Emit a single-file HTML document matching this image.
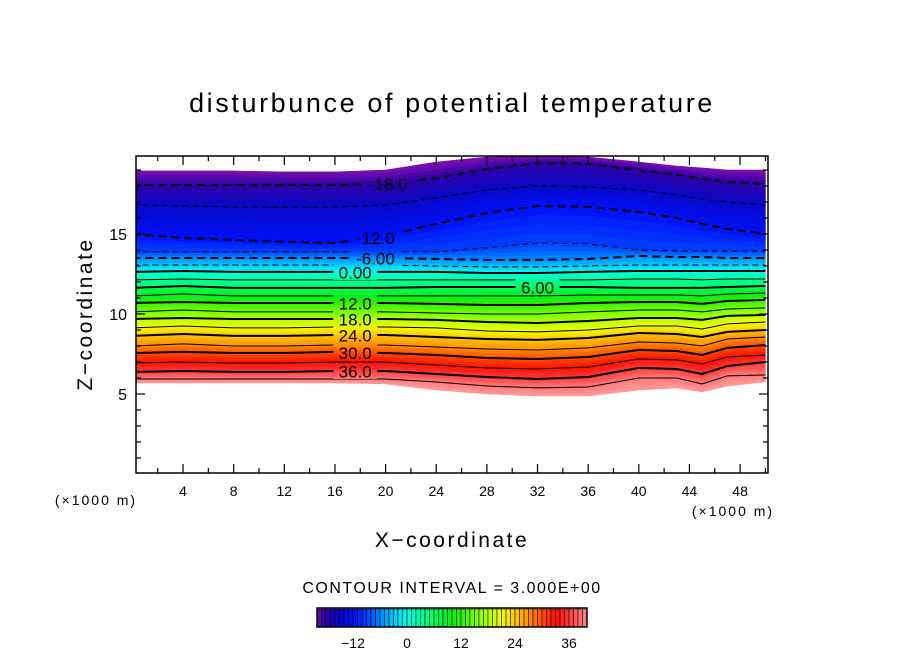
<!DOCTYPE html>
<html><head><meta charset="utf-8"><style>
body{margin:0;background:#fff}
svg{display:block;font-family:"Liberation Sans",sans-serif}
</style></head><body>
<svg id="chart" width="904" height="654" viewBox="0 0 904 654" xmlns="http://www.w3.org/2000/svg">
<defs><clipPath id="plotclip"><rect x="136" y="156" width="632" height="317"/></clipPath>
<mask id="labelmask" maskUnits="userSpaceOnUse" x="0" y="0" width="904" height="654"><rect x="0" y="0" width="904" height="654" fill="#fff"/><g id="maskholes"></g></mask></defs>
<rect width="904" height="654" fill="#fff"/>
<text x="452" y="112" text-anchor="middle" font-size="27" letter-spacing="2.6">disturbunce of potential temperature</text>
<g id="fills" clip-path="url(#plotclip)"></g>
<g clip-path="url(#plotclip)"><g id="lines" mask="url(#labelmask)"></g></g>
<g id="labels"></g>
<rect x="136" y="156" width="632" height="317" fill="none" stroke="#000" stroke-width="1.5"/>
<g id="axes"></g>
<text x="96" y="505" text-anchor="middle" font-size="14" letter-spacing="2">(×1000 m)</text>
<text x="733" y="516" text-anchor="middle" font-size="14" letter-spacing="2">(×1000 m)</text>
<text x="452" y="547" text-anchor="middle" font-size="21" letter-spacing="2.5">X−coordinate</text>
<text transform="translate(92,314) rotate(-90)" text-anchor="middle" font-size="21" letter-spacing="2.5">Z−coordinate</text>
<text x="452" y="593" text-anchor="middle" font-size="16" letter-spacing="1.5">CONTOUR INTERVAL = 3.000E+00</text>
<g id="cbar"></g>
</svg>
<script>
// ---- data ----
const xs = [0,4,8,12,16,20,24,28,32,36,40,43,45,47,50];
const levels = [-18,-15,-12,-9,-6,-3,0,3,6,9,12,15,18,21,24,27,30,33,36,39];
const topValue = -21;
const bottomValue = 41.5;
const topZ = [18.94,18.94,18.94,18.88,18.88,19.00,19.50,19.81,19.88,19.81,19.50,19.25,19.13,19.00,19.00];
const bottomZ = [5.69,5.69,5.69,5.69,5.69,5.63,5.25,5.00,4.88,4.88,5.25,5.38,5.13,5.50,5.75];
const zM18 = [18.06,18.06,18.06,18.06,18.06,18.13,18.50,19.06,19.44,19.38,19.00,18.69,18.44,18.25,18.13];
const zM15 = [16.81,16.75,16.69,16.69,16.69,16.81,17.25,17.75,18.00,17.94,17.75,17.44,17.19,17.00,16.81];
const zM12 = [15.00,14.75,14.63,14.50,14.44,14.88,15.63,16.31,16.75,16.69,16.38,16.00,15.63,15.31,15.00];
const zM9 = [13.88,13.88,13.88,13.88,13.88,13.88,13.88,14.13,14.44,14.38,14.00,13.94,13.94,13.94,13.94];
const zM6 = [13.50,13.50,13.50,13.50,13.50,13.50,13.44,13.38,13.38,13.44,13.63,13.56,13.56,13.50,13.50];
const zM3 = [13.06,13.06,13.06,13.06,13.06,13.06,13.00,12.94,12.94,13.00,13.06,13.06,13.06,13.06,13.06];
const z0 = [12.63,12.69,12.63,12.63,12.63,12.63,12.63,12.56,12.56,12.63,12.69,12.69,12.69,12.69,12.69];
const z3 = [12.13,12.19,12.13,12.13,12.13,12.13,12.13,12.13,12.13,12.13,12.19,12.19,12.13,12.19,12.19];
const z6 = [11.63,11.75,11.63,11.63,11.63,11.63,11.69,11.69,11.69,11.69,11.63,11.63,11.63,11.69,11.75];
const z9 = [11.13,11.25,11.13,11.13,11.13,11.13,11.13,11.13,11.13,11.19,11.19,11.19,11.13,11.25,11.31];
const z12 = [10.69,10.75,10.69,10.69,10.69,10.69,10.63,10.56,10.56,10.69,10.75,10.75,10.63,10.81,10.88];
const z15 = [10.13,10.25,10.13,10.13,10.13,10.13,10.06,10.00,10.00,10.13,10.25,10.25,10.13,10.31,10.38];
const z18 = [9.69,9.75,9.69,9.69,9.69,9.69,9.63,9.50,9.44,9.56,9.75,9.75,9.63,9.88,9.94];
const z21 = [9.13,9.25,9.13,9.13,9.19,9.19,9.13,8.94,8.88,9.00,9.25,9.25,9.06,9.38,9.50];
const z24 = [8.63,8.75,8.63,8.63,8.69,8.69,8.56,8.44,8.38,8.50,8.81,8.75,8.56,8.88,9.00];
const z27 = [8.00,8.13,8.00,8.00,8.06,8.06,7.94,7.81,7.75,7.88,8.25,8.19,8.00,8.44,8.56];
const z30 = [7.56,7.63,7.56,7.56,7.63,7.56,7.44,7.25,7.19,7.31,7.75,7.69,7.44,7.88,8.06];
const z33 = [6.94,7.00,6.94,6.94,7.00,7.00,6.81,6.63,6.56,6.69,7.19,7.13,6.88,7.31,7.44];
const z36 = [6.38,6.44,6.38,6.38,6.44,6.44,6.25,6.06,5.94,6.06,6.63,6.56,6.25,6.75,7.00];
const z39 = [5.94,5.94,5.94,5.94,5.94,5.94,5.75,5.50,5.38,5.44,6.00,6.00,5.63,6.13,6.19];
const levelZ = [zM18,zM15,zM12,zM9,zM6,zM3,z0,z3,z6,z9,z12,z15,z18,z21,z24,z27,z30,z33,z36,z39];
const xTicks = [4,8,12,16,20,24,28,32,36,40,44,48];
const yTicks = [5,10,15];
const cbarTicks = [-12,0,12,24,36];
const labelTexts = ["-18.0","-12.0","-6.00","0.00","6.00","12.0","18.0","24.0","30.0","36.0"];
const labelLevels = [-18,-12,-6,0,6,12,18,24,30,36];
const labelX = [20.2,19.2,19.2,17.6,32,17.6,17.6,17.6,17.6,17.6];

// ---- scales ----
const NS="http://www.w3.org/2000/svg";
const sx = x => 132.4 + 12.66*x;
const sy = z => 474 - 16*z;
const stops = [[-21,"#8010b0"],[-18,"#3000a8"],[-15,"#0808c8"],[-12,"#0010f8"],[-9,"#0040ff"],[-6,"#0088ff"],[-3,"#00c8ff"],[0,"#00ffe8"],[3,"#00ffa0"],[6,"#00ff60"],[9,"#00f020"],[12,"#30f000"],[15,"#70ff00"],[18,"#b0ff00"],[21,"#f0ff00"],[24,"#ffc800"],[27,"#ff9000"],[30,"#ff5000"],[33,"#ff1000"],[36,"#ff3838"],[39,"#ff7878"],[42,"#ffa0a0"]];
function hex(c){return [parseInt(c.substr(1,2),16),parseInt(c.substr(3,2),16),parseInt(c.substr(5,2),16)];}
function cmap(v){
  if(v<=stops[0][0]) return stops[0][1];
  for(let i=0;i<stops.length-1;i++){
    if(v<=stops[i+1][0]){
      const t=(v-stops[i][0])/(stops[i+1][0]-stops[i][0]);
      const a=hex(stops[i][1]),b=hex(stops[i+1][1]);
      return "rgb("+a.map((c,k)=>Math.round(c+(b[k]-c)*t)).join(",")+")";
    }
  }
  return stops[stops.length-1][1];
}
function mk(tag,attrs,parent){const e=document.createElementNS(NS,tag);for(const k in attrs)e.setAttribute(k,attrs[k]);parent.appendChild(e);return e;}

// ---- fills ----
const fills=document.getElementById('fills');
const bounds=[topZ].concat(levelZ).concat([bottomZ]);
const vals=[topValue].concat(levels).concat([bottomValue]);
const SUB=4;
for(let j=0;j<bounds.length-1;j++){
  for(let k=0;k<SUB;k++){
    const t0=k/SUB,t1=(k+1)/SUB;
    const up=xs.map((x,i)=>[sx(x),sy(bounds[j][i]+(bounds[j+1][i]-bounds[j][i])*t0)]);
    const dn=xs.map((x,i)=>[sx(x),sy(bounds[j][i]+(bounds[j+1][i]-bounds[j][i])*t1)]).reverse();
    const v=vals[j]+(vals[j+1]-vals[j])*(t0+t1)/2;
    const col=cmap(v);
    const p=mk('polygon',{points:up.concat(dn).map(p=>p.join(',')).join(' '),fill:col,stroke:col,'stroke-width':0.6},fills);
    
    
  }
}
// ---- lines ----
const lines=document.getElementById('lines');
levels.forEach((lv,j)=>{
  const major=(lv%6===0);
  const attrs={points:xs.map((x,i)=>sx(x)+','+sy(levelZ[j][i])).join(' '),fill:'none',stroke:'#000','stroke-width':major?2:1};
  if(lv<0) attrs['stroke-dasharray']=major?'8,5':'6,4';
  const pl=mk('polyline',attrs,lines);
  
  
});
// ---- labels ----
const labels=document.getElementById('labels');
const holes=document.getElementById('maskholes');
function zAt(arr,x){for(let i=0;i<xs.length-1;i++){if(x<=xs[i+1]){const t=(x-xs[i])/(xs[i+1]-xs[i]);return arr[i]+(arr[i+1]-arr[i])*t;}}return arr[arr.length-1];}
labelTexts.forEach((txt,i)=>{
  const j=levels.indexOf(labelLevels[i]);
  const z=zAt(levelZ[j],labelX[i]);
  const cxp=sx(labelX[i]), cyp=sy(z);
  const w=txt.length*9.5+6;
  mk('rect',{x:cxp-w/2,y:cyp-8,width:w,height:16,fill:'#000'},holes);
  const t=mk('text',{x:cxp,y:cyp+6.5,'text-anchor':'middle','font-size':17},labels);
  t.textContent=txt;
  
  
});
// ---- axes ----
const axes=document.getElementById('axes');
for(let x=2;x<=50;x+=2){
  const major=(x%4===0);const L=major?9:5;
  const a=mk('line',{x1:sx(x),x2:sx(x),y1:473,y2:473-L,stroke:'#000','stroke-width':1.2},axes);
  
  const b=mk('line',{x1:sx(x),x2:sx(x),y1:156,y2:156+L,stroke:'#000','stroke-width':1.2},axes);
  
}
xTicks.forEach(x=>{
  const t=mk('text',{x:sx(x),y:496,'text-anchor':'middle','font-size':14},axes);
  t.textContent=x;
  
});
for(let z=1;z<=19;z++){
  const major=(z%5===0);const L=major?9:5;
  const a=mk('line',{x1:136,x2:136+L,y1:sy(z),y2:sy(z),stroke:'#000','stroke-width':1.2},axes);
  
  const b=mk('line',{x1:768,x2:768-L,y1:sy(z),y2:sy(z),stroke:'#000','stroke-width':1.2},axes);
  
}
yTicks.forEach(z=>{
  const t=mk('text',{x:127,y:sy(z)+6,'text-anchor':'end','font-size':16},axes);
  t.textContent=z;
  
});
// ---- colorbar ----
const cbar=document.getElementById('cbar');
const cx=v=>407+4.5*v;
for(let v=-20;v<40;v+=1){
  const r=mk('rect',{x:cx(v),y:609,width:4.5,height:18,fill:cmap(v+0.5),stroke:'#000','stroke-width':0.5},cbar);
  
}
const fr=mk('rect',{x:cx(-20),y:608,width:270,height:19,fill:'none',stroke:'#000','stroke-width':1.5},cbar);

cbarTicks.forEach(v=>{
  const t=mk('text',{x:cx(v),y:648,'text-anchor':'middle','font-size':14},cbar);
  t.textContent=v<0?'−'+Math.abs(v):v;
  
});
</script>
</body></html>
